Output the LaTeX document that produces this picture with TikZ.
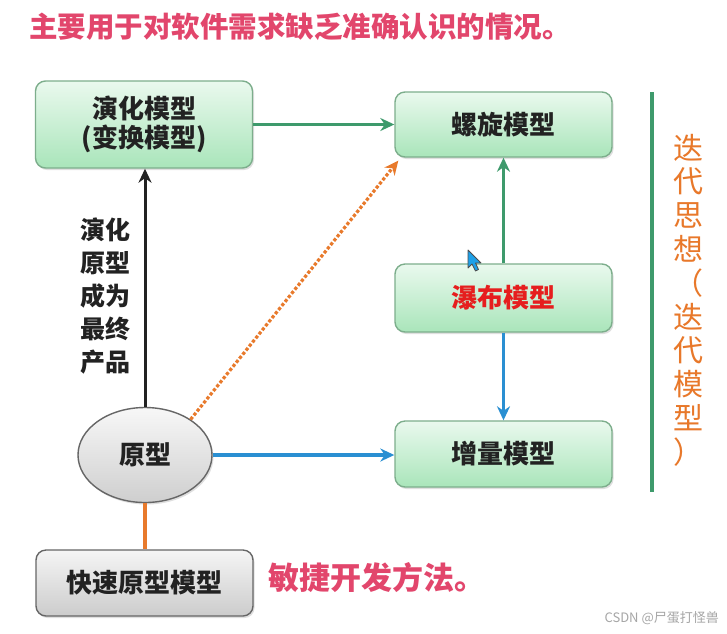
\documentclass[tikz,border=0pt]{standalone}
\usepackage{fontspec}
\newfontfamily\cjk{Noto Sans CJK SC}
\usetikzlibrary{arrows.meta,shadows,shapes.geometric}
\definecolor{titlepink}{HTML}{E2466C}
\definecolor{gline}{HTML}{3E9A6C}
\definecolor{bline}{HTML}{2A8FD2}
\definecolor{oline}{HTML}{E87A2C}
\definecolor{gtop}{HTML}{EAF9EE}
\definecolor{gbot}{HTML}{A9E5BA}
\definecolor{gborder}{HTML}{7DAE8C}
\definecolor{txt}{HTML}{222222}
\definecolor{vorange}{HTML}{E8782A}
\tikzset{
  greenbox/.style={draw=gborder, line width=1.4pt, rounded corners=10pt, top color=gtop, bottom color=gbot,
    drop shadow={opacity=0.25, shadow xshift=1.5pt, shadow yshift=-2pt},
    minimum width=217pt, inner sep=0pt, align=center, font=\cjk\bfseries\fontsize{26}{29}\selectfont, text=txt},
  graybox/.style={draw=gray!80!black, line width=1.4pt, rounded corners=10pt, top color=gray!8, bottom color=gray!40,
    drop shadow={opacity=0.25, shadow xshift=1.5pt, shadow yshift=-2pt},
    minimum width=217pt, minimum height=66pt, inner sep=0pt, font=\cjk\bfseries\fontsize{26}{29}\selectfont, text=txt},
  conn/.style={line width=3.6pt, -{Stealth[length=14pt,width=13pt]}},
}
\begin{document}
\begin{tikzpicture}[x=1pt,y=-1pt]
\useasboundingbox (0,0) rectangle (727,633);
\fill[white] (0,0) rectangle (727,633);
% title
\node[anchor=west, text=titlepink, font=\cjk\bfseries\fontsize{28.5}{30}\selectfont, inner sep=0pt] (title) at (29,27) {主要用于对软件需求缺乏准确认识的情况。};
% boxes
\node[greenbox, minimum height=87pt] (yanhua) at (144,124.5) {演化模型\\(变换模型)};
\node[greenbox, minimum height=65pt] (luoxuan) at (503.5,124.5) {螺旋模型};
\node[greenbox, minimum height=68pt, text={rgb,255:red,230;green,30;blue,30}] (pubu) at (503.5,298) {瀑布模型};
\node[greenbox, minimum height=66pt] (zengliang) at (503.5,454) {增量模型};
\node[graybox] (kuaisu) at (144.5,583) {快速原型模型};
\node[ellipse, draw=gray!80!black, line width=1.4pt, top color=gray!6, bottom color=gray!38,
  drop shadow={opacity=0.25, shadow xshift=1.5pt, shadow yshift=-2pt},
  minimum width=134pt, minimum height=95pt, inner sep=0pt, font=\cjk\bfseries\fontsize{26}{29}\selectfont, text=txt] (yuanxing) at (145,455) {原型};
% labels
\node[align=center, font=\cjk\bfseries\fontsize{25}{33}\selectfont, text=txt, inner sep=0pt] (lab) at (105,296) {演化\\原型\\成为\\最终\\产品};
\node[anchor=west, text=titlepink, font=\cjk\bfseries\fontsize{31}{33}\selectfont, inner sep=0pt] (agile) at (268,578) {敏捷开发方法。};
\node[align=center, text=vorange, font=\cjk\fontsize{30}{33.8}\selectfont, inner sep=0pt] (iter) at (688,300) {迭\\代\\思\\想\\（\\迭\\代\\模\\型\\）};
\node[anchor=east, text=gray!70, font=\cjk\fontsize{13}{14}\selectfont, inner sep=0pt] (wm) at (719,618) {CSDN @尸蛋打怪兽};
% separator line
\draw[gline, line width=4pt] (652,92) -- (652,492);
% connectors
\draw[conn, gline] (yanhua) -- (luoxuan);
\draw[conn, gline] (pubu.north) -- (luoxuan.south);
\draw[conn, bline] (pubu.south) -- (zengliang.north);
\draw[conn, bline] (yuanxing.east) -- (yuanxing.east -| zengliang.west);
\draw[conn, txt, line width=3pt] (yuanxing.north) -- (yuanxing.north |- yanhua.south);
\draw[oline, line width=4pt] (yuanxing.south) -- (yuanxing.south |- kuaisu.north);
\draw[oline, line width=3.2pt, dotted, -{Stealth[length=14pt,width=13pt]}] (yuanxing.38) -- ([xshift=4pt,yshift=-3pt]luoxuan.south west);
% cursor
\draw[fill={rgb,255:red,30;green,160;blue,232}, draw=black!70, line width=0.8pt, line join=round]
  (468,250) -- (468,268) -- (472,264) -- (475.5,271) -- (478.5,269.5) -- (475.5,263) -- (481,263) -- cycle;
\end{tikzpicture}
\end{document}
